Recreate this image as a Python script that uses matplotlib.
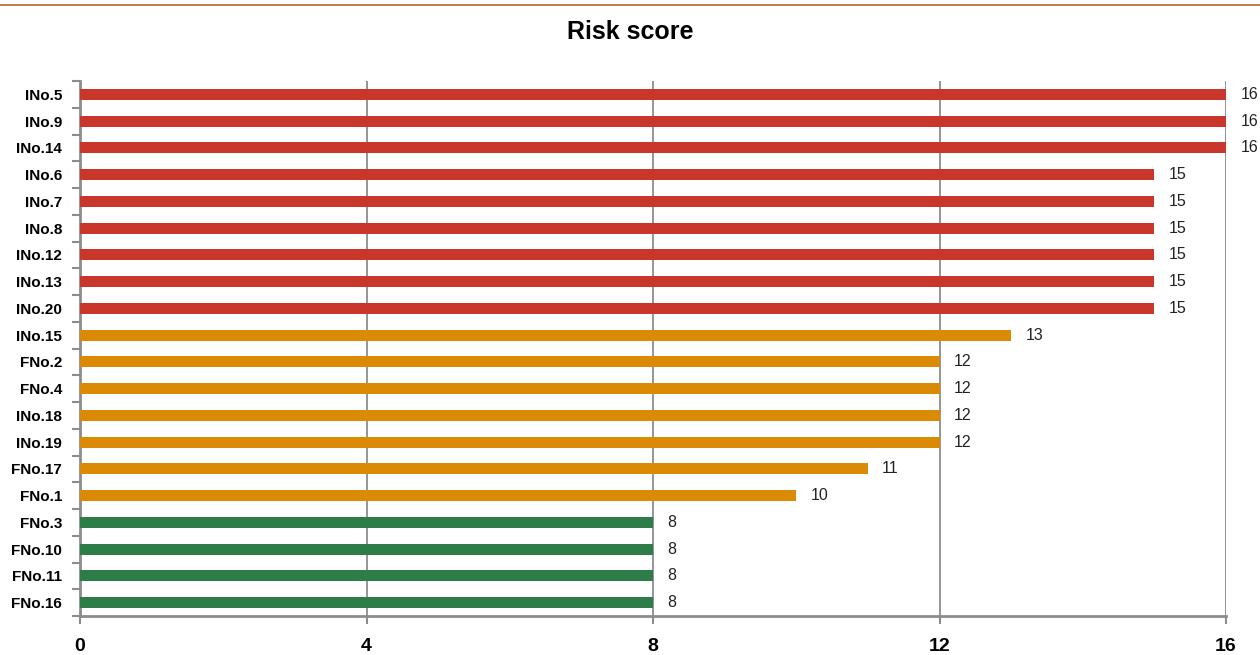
import matplotlib
matplotlib.use("Agg")
import matplotlib.pyplot as plt
from matplotlib import font_manager as fm
from matplotlib.ticker import FixedLocator

names = {f.name for f in fm.fontManager.ttflist}
NARROW = "Liberation Sans Narrow" if "Liberation Sans Narrow" in names else "Liberation Sans"

categories = ["INo.5", "INo.9", "INo.14", "INo.6", "INo.7", "INo.8", "INo.12", "INo.13",
              "INo.20", "INo.15", "FNo.2", "FNo.4", "INo.18", "INo.19", "FNo.17", "FNo.1",
              "FNo.3", "FNo.10", "FNo.11", "FNo.16"]
scores = [16, 16, 16, 15, 15, 15, 15, 15, 15, 13, 12, 12, 12, 12, 11, 10, 8, 8, 8, 8]
levels = ["high"] * 9 + ["medium"] * 7 + ["low"] * 4
level_colors = {"high": "#C9372C", "medium": "#DB8A06", "low": "#2E7D48"}
x_ticks = [0, 4, 8, 12, 16]

fig = plt.figure(figsize=(12.6, 6.55), dpi=100)
fig.add_artist(plt.Line2D([0, 1], [1 - 5 / 655] * 2, color="#B5652F", lw=1.2,
                          transform=fig.transFigure))
ax = fig.add_axes([80 / 1260, 1 - 616 / 655, (1226 - 80) / 1260, (616 - 81) / 655])

n = len(categories)
ypos = list(range(n))
ax.barh(ypos, scores, height=0.42, color=[level_colors[l] for l in levels], zorder=3)
for y, v in zip(ypos, scores):
    ax.text(v + 0.2, y, str(v), va="center", ha="left", fontsize=11.5,
            family=NARROW, color="#222222")

ax.set_xlim(0, 16)
ax.set_ylim(n - 0.5, -0.5)
ax.set_xticks(x_ticks)
ax.set_xticklabels([str(t) for t in x_ticks], fontsize=14, fontweight="bold", family=NARROW)
ax.set_yticks(ypos)
ax.set_yticklabels(categories, fontsize=11, fontweight="bold", family=NARROW)
ax.yaxis.set_minor_locator(FixedLocator([i - 0.5 for i in range(n + 1)]))
ax.tick_params(axis="y", which="major", length=0, pad=13)
ax.tick_params(axis="y", which="minor", length=6, width=1.5, color="#8C8C8C")
ax.tick_params(axis="x", which="major", length=6, width=1.5, color="#8C8C8C", pad=10)
ax.grid(axis="x", color="#8C8C8C", lw=1.3, zorder=0)
for s in ["top", "right"]:
    ax.spines[s].set_visible(False)
for s in ["left", "bottom"]:
    ax.spines[s].set_color("#8C8C8C")
    ax.spines[s].set_linewidth(2)

fig.text(0.5, 1 - 32 / 655, "Risk score", ha="center", va="center",
         fontsize=18, fontweight="bold", family=NARROW)

fig.savefig("out.png", dpi=100)
